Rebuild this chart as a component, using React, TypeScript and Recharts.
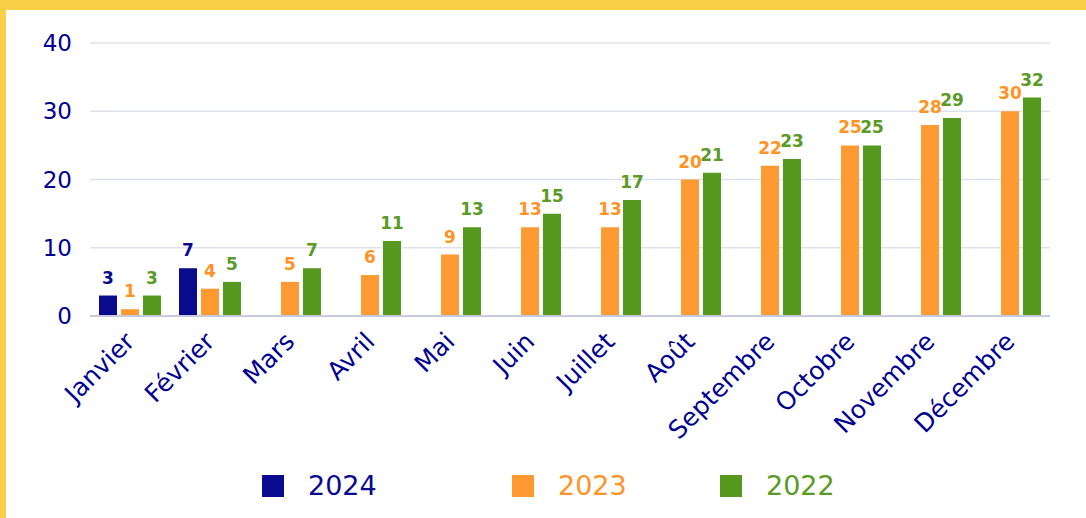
import React from 'react';
import { BarChart, Bar, XAxis, YAxis, CartesianGrid, Legend, LabelList } from 'recharts';

const months = ['Janvier', 'Février', 'Mars', 'Avril', 'Mai', 'Juin', 'Juillet', 'Août', 'Septembre', 'Octobre', 'Novembre', 'Décembre'];
const values2024 = [3, 7, null, null, null, null, null, null, null, null, null, null];
const values2023 = [1, 4, 5, 6, 9, 13, 13, 20, 22, 25, 28, 30];
const values2022 = [3, 5, 7, 11, 13, 15, 17, 21, 23, 25, 29, 32];
const yTicks = [0, 10, 20, 30, 40];

const series = [
  { key: 'y2024', name: '2024', color: '#0a0a8e', label: '#0a0a8e' },
  { key: 'y2023', name: '2023', color: '#ff9a33', label: '#ff9326' },
  { key: 'y2022', name: '2022', color: '#56991f', label: '#5a9a25' },
];

const data = months.map((m, i) => ({
  month: m,
  y2024: values2024[i],
  y2023: values2023[i],
  y2022: values2022[i],
}));

const FONT = '"DejaVu Sans", "Open Sans", sans-serif';
const BLUE = '#000091';

function MonthTick(props: any) {
  const { x, y, payload } = props;
  return (
    <g transform={`translate(${x - 1},${y + 12})`}>
      <text x={0} y={0} dy={10} textAnchor="end" transform="rotate(-45)" fill={BLUE} fontSize={25} fontFamily={FONT}>
        {payload.value}
      </text>
    </g>
  );
}

// widths of the legend slots, so markers line up with the original
const legendSlots = [250, 208, 130];

function YearLegend() {
  return (
    <div style={{ height: 48, display: 'flex', alignItems: 'center', paddingLeft: 256, fontFamily: FONT }}>
      {series.map((s, i) => (
        <div key={s.key} style={{ display: 'flex', alignItems: 'center', width: legendSlots[i] }}>
          <span style={{ width: 22, height: 22, background: s.color, display: 'inline-block' }} />
          <span style={{ marginLeft: 24, fontSize: 27, color: s.label, lineHeight: '30px' }}>{s.name}</span>
        </div>
      ))}
    </div>
  );
}

export default function App() {
  return (
    <div
      style={{
        position: 'absolute',
        top: 0,
        left: 0,
        width: 1086,
        height: 518,
        boxSizing: 'border-box',
        borderTop: '10px solid #f9cf45',
        borderLeft: '6px solid #f9cf45',
        background: '#fff',
      }}
    >
      <BarChart
        width={1080}
        height={508}
        data={data}
        margin={{ top: 33, right: 36, bottom: 8, left: 0 }}
        barGap={4}
        barCategoryGap={9}
      >
        <CartesianGrid vertical={false} stroke="#dde2ea" strokeWidth={1.5} />
        <XAxis
          dataKey="month"
          interval={0}
          height={146}
          tickLine={false}
          axisLine={{ stroke: '#c9c9dc', strokeWidth: 2 }}
          tick={<MonthTick />}
        />
        <YAxis
          domain={[0, 40]}
          ticks={yTicks}
          width={84}
          axisLine={false}
          tickLine={false}
          tickMargin={12}
          tick={{ fill: BLUE, fontSize: 23, fontFamily: FONT }}
        />
        <Legend verticalAlign="bottom" align="left" content={<YearLegend />} />
        {series.map((s) => (
          <Bar key={s.key} dataKey={s.key} name={s.name} fill={s.color} isAnimationActive={false}>
            <LabelList
              dataKey={s.key}
              position="top"
              offset={12}
              fill={s.label}
              fontSize={17}
              fontWeight={700}
              fontFamily={FONT}
            />
          </Bar>
        ))}
      </BarChart>
    </div>
  );
}
